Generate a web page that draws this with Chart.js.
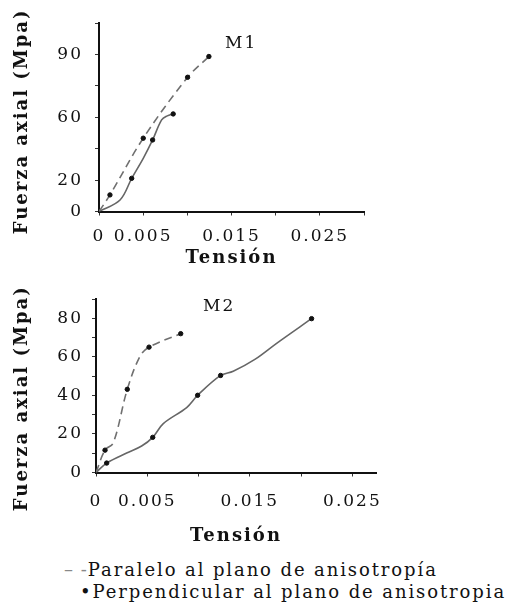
<!DOCTYPE html>
<html>
<head>
<meta charset="utf-8">
<script src="https://cdn.jsdelivr.net/npm/chart.js@4.4.1/dist/chart.umd.min.js"></script>
<style>
  body { margin: 0; background: #fff; }
  #page { position: relative; width: 523px; height: 606px; overflow: hidden; font-family: "DejaVu Serif", serif; color: #111; }
  canvas { position: absolute; left: 0; }
  .tag { position: absolute; font-family: "DejaVu Serif", serif; font-size: 17px; letter-spacing: 2px; line-height: 18px; }
  .leg { position: absolute; font-family: "DejaVu Serif", serif; font-size: 18px; letter-spacing: 1.9px; line-height: 20px; white-space: nowrap; }
  .key { color: #888; letter-spacing: 1px; }
</style>
</head>
<body>
<div id="page">
  <canvas id="m1" width="523" height="280" style="top:0"></canvas>
  <canvas id="m2" width="523" height="270" style="top:280px"></canvas>
  <div class="tag" style="left:225px;top:33px">M1</div>
  <div class="tag" style="left:203px;top:296px">M2</div>
  <div class="leg" style="left:64px;top:560px"><span class="key">– -</span>Paralelo al plano de anisotropía</div>
  <div class="leg" style="left:80px;top:582px">•Perpendicular al plano de anisotropia</div>
</div>
<script>
// M1: tension (x) and axial force (y)
const m1ParX = [0, 0.00124, 0.00501, 0.01003, 0.01244]
const m1ParY = [0, 9.5, 42.0, 76.9, 88.8]
const m1ParMarkX = [0.00124, 0.00501, 0.01003, 0.01244]
const m1ParMarkY = [9.5, 42.0, 76.9, 88.8]

const m1PerX = [0, 0.00238, 0.0037, 0.00501, 0.00607, 0.00709, 0.00773, 0.0084]
const m1PerY = [0, 6.6, 19.0, 30.5, 41.0, 52.5, 54.8, 55.9]
const m1PerMarkX = [0.0037, 0.00607, 0.0084]
const m1PerMarkY = [19.0, 41.0, 55.9]

// M2
const m2ParX = [0, 0.00088, 0.00169, 0.00305, 0.00429, 0.00517, 0.00826]
const m2ParY = [0, 11.6, 15.4, 43.2, 60.4, 65.1, 72.1]
const m2ParMarkX = [0.00088, 0.00305, 0.00517, 0.00826]
const m2ParMarkY = [11.6, 43.2, 65.1, 72.1]

const m2PerX = [0, 0.00104, 0.00299, 0.00445, 0.00553, 0.00656, 0.00884, 0.00991, 0.01215, 0.01338, 0.01549, 0.01761, 0.02102]
const m2PerY = [0, 4.9, 10.1, 13.75, 18.25, 25.4, 33.75, 40.1, 50.4, 52.6, 58.75, 67.1, 79.9]
const m2PerMarkX = [0.00104, 0.00553, 0.00991, 0.01215, 0.02102]
const m2PerMarkY = [4.9, 18.25, 40.1, 50.4, 79.9]

// tick labels
const xTickLabels = ["0", "0.005", "0.015", "0.025"]
const m1YTickLabels = { 0: "0", 18: "20", 54: "60", 90: "90" } // the original axis labels are uneven
const m2YTickLabels = ["0", "20", "40", "60", "80"]

const pts = (xs, ys) => xs.map((x, i) => ({ x: x, y: ys[i] }))

// the original type is set wide, so spread the canvas text a little
const spacing = {
  id: "spacing",
  beforeLayout: (chart) => { chart.ctx.letterSpacing = "2px" },
  beforeDraw: (chart) => { chart.ctx.letterSpacing = "2px" },
}

const ink = "#111"

function makeChart(id, o) {
  const lineSet = (data, dashed) => ({
    data: data,
    showLine: true,
    borderColor: dashed ? "#707070" : "#666",
    borderWidth: 1.6,
    borderDash: dashed ? [8, 5] : [],
    pointRadius: 0,
    tension: 0.35,
    order: 2,
  })
  const markSet = (data) => ({
    data: data,
    showLine: false,
    pointRadius: 2.2,
    pointBackgroundColor: ink,
    pointBorderColor: ink,
    order: 1,
  })

  return new Chart(document.getElementById(id), {
    type: "scatter",
    data: {
      datasets: [
        lineSet(pts(o.parX, o.parY), true),
        lineSet(pts(o.perX, o.perY), false),
        markSet(pts(o.parMX, o.parMY)),
        markSet(pts(o.perMX, o.perMY)),
      ],
    },
    plugins: [spacing],
    options: {
      responsive: false,
      animation: false,
      layout: { padding: { left: 0, top: o.top, right: o.right, bottom: 0 } },
      plugins: { legend: { display: false }, tooltip: { enabled: false } },
      scales: {
        x: {
          type: "linear",
          min: 0,
          max: o.xMax,
          afterFit: (scale) => { scale.height = o.xHeight },
          afterBuildTicks: (scale) => {
            const t = []
            for (let i = 0; i * 0.005 <= o.xMax + 1e-9; i++) t.push({ value: i * 0.005 })
            scale.ticks = t
          },
          ticks: {
            autoSkip: false,
            maxRotation: 0,
            padding: o.xPad,
            color: ink,
            font: { family: "DejaVu Serif", size: 17 },
            callback: (v) => {
              const s = String(Math.round(v * 1000) / 1000)
              return xTickLabels.includes(s) ? s : ""
            },
          },
          grid: { display: true, drawOnChartArea: false, drawTicks: true, tickLength: 4, color: "#333", lineWidth: 1 },
          border: { display: true, color: ink, width: 2 },
          title: {
            display: true,
            text: "Tensión",
            color: ink,
            font: { family: "DejaVu Serif", size: 18, weight: "bold" },
            padding: { top: 0, bottom: o.xTitlePad },
          },
        },
        y: {
          min: 0,
          max: o.yMax,
          afterFit: (scale) => { scale.width = o.yWidth },
          ticks: {
            stepSize: o.yStep,
            autoSkip: false,
            padding: o.yPad,
            color: ink,
            font: { family: "DejaVu Serif", size: 17 },
            callback: o.yLabel,
          },
          grid: { display: true, drawOnChartArea: false, drawTicks: true, tickLength: 4, color: "#333", lineWidth: 1 },
          border: { display: true, color: ink, width: 2 },
          title: {
            display: true,
            // trailing no-break spaces nudge the centred title down a bit, as in the original
            text: "Fuerza axial (Mpa)" + "\u00a0".repeat(o.yTitleNudge),
            color: ink,
            font: { family: "DejaVu Serif", size: 18, weight: "bold" },
            padding: { top: 12, bottom: 0 },
          },
        },
      },
    },
  })
}

makeChart("m1", {
  parX: m1ParX, parY: m1ParY, perX: m1PerX, perY: m1PerY,
  parMX: m1ParMarkX, parMY: m1ParMarkY, perMX: m1PerMarkX, perMY: m1PerMarkY,
  xMax: 0.03, yMax: 108, yStep: 18,
  yLabel: (v) => (m1YTickLabels[v] !== undefined ? m1YTickLabels[v] : ""),
  top: 23, right: 159, xHeight: 68.5, yWidth: 99,
  xPad: 11, yPad: 12, xTitlePad: 11, yTitleNudge: 1,
})

makeChart("m2", {
  parX: m2ParX, parY: m2ParY, perX: m2PerX, perY: m2PerY,
  parMX: m2ParMarkX, parMY: m2ParMarkY, perMX: m2PerMarkX, perMY: m2PerMarkY,
  xMax: 0.0273, yMax: 90, yStep: 10,
  yLabel: (v) => (v % 20 === 0 ? m2YTickLabels[v / 20] : ""),
  top: 13, right: 147, xHeight: 77.5, yWidth: 96,
  xPad: 15, yPad: 9, xTitlePad: 3, yTitleNudge: 3,
})
</script>
</body>
</html>
